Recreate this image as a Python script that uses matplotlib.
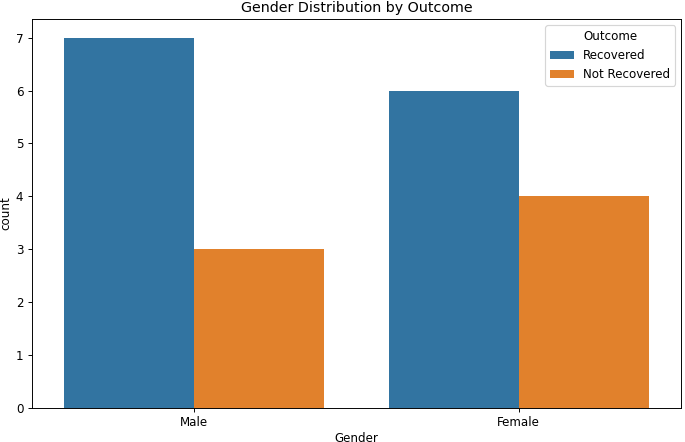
import matplotlib
matplotlib.use("Agg")
import matplotlib.pyplot as plt
import seaborn as sns
import pandas as pd

genders = ["Male", "Female"]
outcomes = ["Recovered", "Not Recovered"]
recovered = [7, 6]
not_recovered = [3, 4]

df = pd.DataFrame({
    "Gender": genders * 2,
    "Outcome": [outcomes[0]] * 2 + [outcomes[1]] * 2,
    "count": recovered + not_recovered,
})

# original looks like an 8in wide figure shrunk to 685px
dpi = 685 / 8
fig = plt.figure(figsize=(8, 442 / dpi), dpi=dpi)
ax = fig.add_axes([0.0463, 0.0776, 0.948, 0.8787])
sns.barplot(data=df, x="Gender", y="count", hue="Outcome",
            order=genders, hue_order=outcomes, ax=ax)
ax.set_title("Gender Distribution by Outcome")
ax.set_xlabel("Gender", labelpad=2.5)
ax.set_ylabel("count", labelpad=3)
ax.legend(title="Outcome", loc="upper right")
fig.savefig("out.png", dpi=dpi)
